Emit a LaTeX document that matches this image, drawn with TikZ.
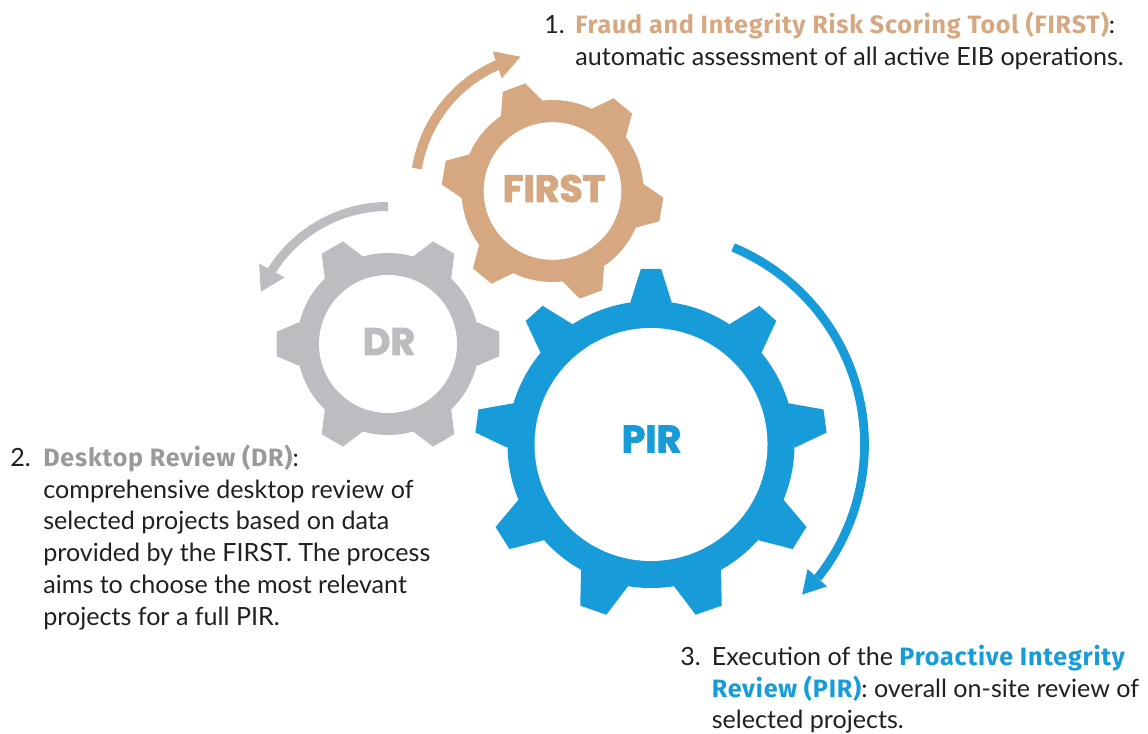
\documentclass[tikz,border=0pt]{standalone}
\usepackage{fontspec}
\setmainfont{Lato}[BoldFont={Fira Sans Bold},BoldFeatures={LetterSpace=3.2}]
\newfontfamily\cogfont{Poppins Bold}[FakeBold=2.5]
\definecolor{firsttan}{HTML}{D6A881}
\definecolor{drgrey}{HTML}{BBBDC0}
\definecolor{drtext}{HTML}{98999C}
\definecolor{pirblue}{HTML}{179CD9}
\definecolor{bodytext}{HTML}{231F20}
\tikzset{
  itemtext/.style={anchor=north west,inner sep=0,align=left,text=bodytext,font=\fontsize{14.28}{18.14}\selectfont},
  coglabel/.style={inner sep=0,font=\cogfont\fontsize{21.6}{21.6}\selectfont}
}
\begin{document}
\begin{tikzpicture}
\useasboundingbox (0,0) rectangle (22.96,14.66);
% FIRST
\begin{scope}[shift={(11.05,10.84)}]
\fill [firsttan] (0,0) circle (1.82);
\foreach \c in {110.4,50.4,-9.6,-69.6,-129.6,-189.6}
  \fill [firsttan] (\c+14.1:1.82)--(\c+6.2:2.22)--(\c-6.2:2.22)--(\c-14.1:1.82)--cycle;
\fill [white] (0,0) circle (1.376);
\draw [firsttan,line width=.2cm] (170.6:2.75) arc [start angle=170.6,end angle=112,radius=2.75];
\fill [firsttan] (103.4:2.76)--(113.2:3.04)--(114.3:2.47)--cycle;
\end{scope}
\node [coglabel,text=firsttan] (first) at (11.08,10.89) {FIRST};
% DR
\begin{scope}[shift={(7.76,7.78)}]
\fill [drgrey] (0,0) circle (1.82);
\foreach \c in {120,60,0,-60,-120,180}
  \fill [drgrey] (\c+14:1.82)--(\c+6.3:2.24)--(\c-6.3:2.24)--(\c-14:1.82)--cycle;
\fill [white] (0,0) circle (1.38);
\draw [drgrey,line width=.18cm] (90:2.75) arc [start angle=90,end angle=149,radius=2.75];
\fill [drgrey] (157.7:2.75)--(148:3.04)--(147.2:2.46)--cycle;
\end{scope}
\node [coglabel,text=drgrey] (dr) at (7.78,7.83) {DR};
% PIR
\begin{scope}[shift={(13.02,5.77)}]
\fill [pirblue] (0,0) circle (2.87);
\foreach \c/\t/\b in {90/3.3/8.3,48.3/3.7/8.6,7.7/3.8/9,-32.2/4.25/9.6,-70.8/4.5/10,-109.2/4.5/10,-147.8/4.25/9.6,172.3/3.8/9,131.7/3.7/8.6}
  \fill [pirblue] (\c+\b:2.87)--(\c+\t:3.52)--(\c-\t:3.52)--(\c-\b:2.87)--cycle;
\fill [white] (0,0) circle (2.33);
\draw [pirblue,line width=.175cm] (67.4:4.27) arc [start angle=67.4,end angle=-38.7,radius=4.27];
\fill [pirblue] (-44.8:4.26)--(-38.5:4)--(-38.9:4.52)--cycle;
\end{scope}
\node [coglabel,text=pirblue] (pir) at (13.03,5.88) {PIR};
% text
\node [itemtext] (num1) at (10.88,14.45) {\strut 1.};
\node [itemtext] (item1) at (11.5,14.45) {\strut\textbf{\textcolor{firsttan}{Fraud and Integrity Risk Scoring Tool (FIRST)}}:\\automatic assessment of all active EIB operations.};
\node [itemtext] (num2) at (.2,5.79) {\strut 2.};
\node [itemtext] (item2) at (.86,5.79) {\strut\textbf{\textcolor{drtext}{Desktop Review (DR)}}:\\comprehensive desktop review of\\selected projects based on data\\provided by the FIRST. The process\\aims to choose the most relevant\\projects for a full PIR.};
\node [itemtext] (num3) at (13.6,1.81) {\strut 3.};
\node [itemtext] (item3) at (14.23,1.81) {\strut Execution of the \textbf{\textcolor{pirblue}{Proactive Integrity}}\\\textbf{\textcolor{pirblue}{Review (PIR)}}: overall on-site review of\\selected projects.};
\end{tikzpicture}
\end{document}
